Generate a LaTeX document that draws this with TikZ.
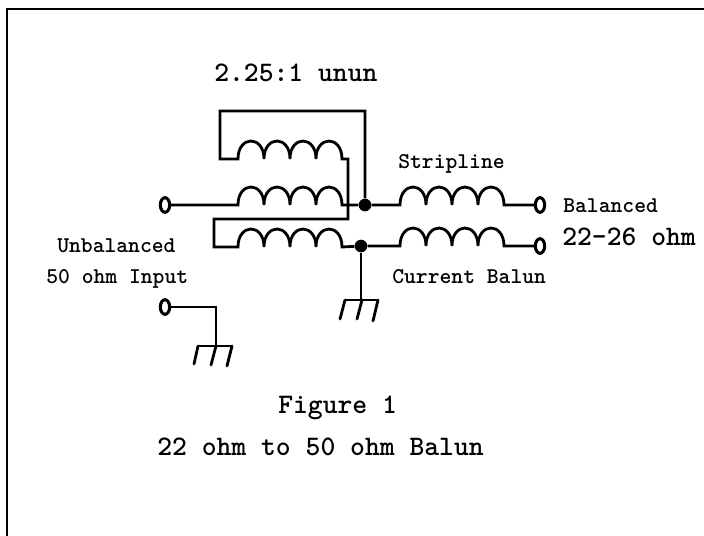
\documentclass[tikz,border=0pt]{standalone}
\usepackage{tikz}
\usetikzlibrary{shapes.geometric}

\begin{document}
\begin{tikzpicture}[
    x=0.75pt, y=-0.75pt,
    wire/.style={draw, line width=2.1pt, line join=miter},
    terminal/.style={ellipse, draw, line width=2.3pt, fill=white, minimum width=7pt, minimum height=11pt, inner sep=0pt},
    junction/.style={circle, fill=black, minimum size=9.5pt, inner sep=0pt},
    coil/.style={to path={
        .. controls +(0,-24) and +(0,-24) .. ++(26,0)
        .. controls +(0,-24) and +(0,-24) .. ++(26,0)
        .. controls +(0,-24) and +(0,-24) .. ++(26,0)
        .. controls +(0,-24) and +(0,-24) .. (\tikztotarget)}},
    bigtext/.style={anchor=base west, inner sep=0pt, font=\fontsize{21.2pt}{22pt}\selectfont\ttfamily\bfseries},
    smalltext/.style={anchor=base west, inner sep=0pt, font=\fontsize{16.9pt}{18pt}\selectfont\ttfamily\bfseries}
]
    \useasboundingbox (0,0) rectangle (704,536);
    \draw[line width=1.6pt] (704,9) -- (7,9) -- (7,536);

    % terminals and junctions
    \node[terminal] (input) at (165,205) {};
    \node[terminal] (inputgnd) at (165,307) {};
    \node[terminal] (balA) at (540,205) {};
    \node[terminal] (balB) at (540,246) {};
    \node[junction] (jtop) at (365,205) {};
    \node[junction] (jbot) at (361,246) {};

    % coil ends
    \coordinate (topL) at (238,159);
    \coordinate (topR) at (342,159);
    \coordinate (midL) at (238,205);
    \coordinate (midR) at (342,205);
    \coordinate (lowL) at (238,247);
    \coordinate (lowR) at (342,247);
    \coordinate (stripL) at (400,205);
    \coordinate (stripR) at (504,205);
    \coordinate (baluL) at (400,246);
    \coordinate (baluR) at (504,246);

    % ground bars
    \coordinate (gndA) at (361,300);
    \coordinate (gndB) at (216,346);

    % 2.25:1 unun
    \draw[wire] (jtop) -- (365,111) -- (220,111) -- (220,159) -- (topL) to[coil] (topR)
        -- (348,159) -- (348,219) -- (214,219) -- (214,247) -- (lowL) to[coil] (lowR) -- (jbot);
    \draw[wire] (input) -- (midL) to[coil] (midR) -- (jtop);

    % stripline and current balun
    \draw[wire] (jtop) -- (stripL) to[coil] (stripR) -- (balA);
    \draw[wire] (jbot) -- (baluL) to[coil] (baluR) -- (balB);

    % grounds
    \draw[wire] (jbot) -- (gndA);
    \draw[wire] (345,300) -- (378,300);
    \foreach \xtop/\xbot/\ybot in {345/340/319, 362/357/319, 378/373/321}
        \draw[wire, line cap=round] (\xtop,300) -- (\xbot,\ybot);
    \draw[wire] (inputgnd) -- (216,307) -- (gndB);
    \draw[wire] (198,346) -- (232,346);
    \foreach \xtop/\xbot/\ybot in {198/194/364, 216/211/365, 232/227/366}
        \draw[wire, line cap=round] (\xtop,346) -- (\xbot,\ybot);

    \node[bigtext] (ununlabel) at (214,81) {2.25:1 unun};
    \node[smalltext] (striplabel) at (398,168) {Stripline};
    \node[smalltext] (ballabel) at (563,212) {Balanced};
    \node[bigtext] (ohmlabel) at (562,245) {22-26 ohm};
    \node[smalltext] (currlabel) at (392,283) {Current Balun};
    \node[smalltext] (unballabel) at (57,252) {Unbalanced};
    \node[smalltext] (inlabel) at (46,283) {50 ohm Input};
    \node[bigtext] (figlabel) at (278,413) {Figure 1};
    \node[bigtext] (titlelabel) at (157,455) {22 ohm to 50 ohm Balun};
\end{tikzpicture}
\end{document}
